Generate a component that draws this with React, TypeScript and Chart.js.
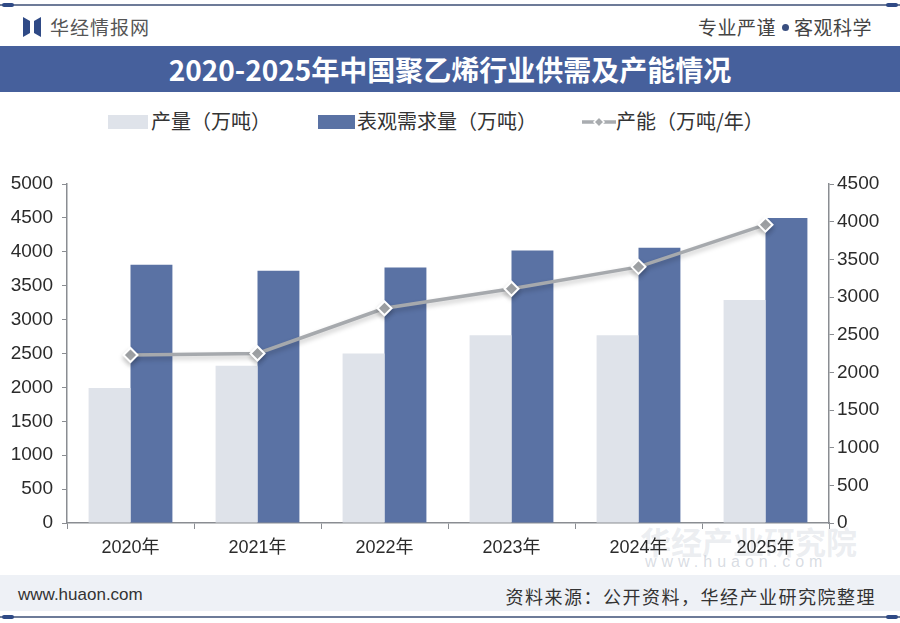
import React, { useRef, useEffect } from 'react'
import { Chart, registerables } from 'chart.js'

Chart.register(...registerables)

const years = ['2020年', '2021年', '2022年', '2023年', '2024年', '2025年']
const output = [1990, 2320, 2500, 2770, 2770, 3290]
const demand = [3810, 3720, 3770, 4020, 4060, 4500]
const capacity = [2230, 2250, 2850, 3110, 3400, 3960]

const CJK = "'Noto Sans CJK SC', 'Noto Sans', sans-serif"
const NUM = "'Liberation Sans', Arial, 'Noto Sans CJK SC', sans-serif"

const lineShadow = {
	id: 'lineShadow',
	beforeDatasetDraw(chart: any, args: any) {
		if (args.index !== 2) return
		const ctx = chart.ctx
		ctx.save()
		ctx.shadowColor = 'rgba(0,0,0,0.22)'
		ctx.shadowBlur = 5
		ctx.shadowOffsetY = 3
	},
	afterDatasetDraw(chart: any, args: any) {
		if (args.index !== 2) return
		chart.ctx.restore()
	},
}

const plain = (v: any) => String(v)

const SupplyChart: React.FC = () => {
	const chartRef = useRef<HTMLCanvasElement | null>(null)

	useEffect(() => {
		if (!chartRef.current) return
		const ctx = chartRef.current.getContext('2d')
		if (!ctx) return
		const axisColor = '#8a8d92'
		const chart = new Chart(ctx, {
			type: 'bar',
			data: {
				labels: years,
				datasets: [
					{
						label: '产量（万吨）',
						data: output,
						backgroundColor: '#dfe3ea',
						yAxisID: 'y',
						order: 1,
						categoryPercentage: 0.66,
						barPercentage: 1,
					},
					{
						label: '表观需求量（万吨）',
						data: demand,
						backgroundColor: '#5a72a4',
						yAxisID: 'y',
						order: 1,
						categoryPercentage: 0.66,
						barPercentage: 1,
					},
					{
						type: 'line',
						label: '产能（万吨/年）',
						data: capacity,
						borderColor: '#a6a9ad',
						borderWidth: 3.5,
						pointStyle: 'rectRot',
						pointRadius: 7,
						pointBackgroundColor: '#a8abae',
						pointBorderColor: '#ffffff',
						pointBorderWidth: 2,
						yAxisID: 'y1',
						order: 0,
						tension: 0,
					} as any,
				],
			},
			options: {
				responsive: false,
				animation: false,
				layout: { padding: { top: 24, left: 0, right: 0, bottom: 0 } },
				plugins: {
					legend: { display: false },
					tooltip: { enabled: false },
				},
				scales: {
					x: {
						grid: {
							display: true,
							drawOnChartArea: false,
							drawTicks: true,
							tickLength: 6,
							color: axisColor,
						},
						border: { display: true, color: axisColor, width: 1.5 },
						ticks: {
							color: '#2b2b2b',
							font: { family: NUM, size: 18 },
							padding: 8,
						},
						afterFit: (s: any) => {
							s.height = 42
						},
					},
					y: {
						position: 'left',
						min: 0,
						max: 5000,
						ticks: {
							stepSize: 500,
							callback: plain,
							color: '#2b2b2b',
							font: { family: NUM, size: 19 },
							padding: 9,
						},
						grid: {
							display: true,
							drawOnChartArea: false,
							drawTicks: true,
							tickLength: 5,
							color: axisColor,
						},
						border: { display: true, color: axisColor, width: 1.5 },
						afterFit: (s: any) => {
							s.width = 67
						},
					},
					y1: {
						position: 'right',
						min: 0,
						max: 4500,
						ticks: {
							stepSize: 500,
							callback: plain,
							color: '#2b2b2b',
							font: { family: NUM, size: 19 },
							padding: 3,
						},
						grid: {
							display: true,
							drawOnChartArea: false,
							drawTicks: true,
							tickLength: 5,
							color: axisColor,
						},
						border: { display: true, color: axisColor, width: 1.5 },
						afterFit: (s: any) => {
							s.width = 71
						},
					},
				},
			},
			plugins: [lineShadow],
		})

		return () => {
			chart.destroy()
		}
	}, [])

	return <canvas ref={chartRef} width={900} height={405} />
}

const App: React.FC = () => {
	const text = '#333333'
	return (
		<div
			style={{
				position: 'fixed',
				left: 0,
				top: 0,
				width: 900,
				height: 623,
				background: '#ffffff',
				overflow: 'hidden',
				fontFamily: CJK,
			}}
		>
			{/* top rule */}
			<div style={{ position: 'absolute', left: 0, top: 4, width: 900, height: 2, background: '#6d7b98' }} />
			<div style={{ position: 'absolute', left: 2, top: 3, width: 12, height: 4, borderRadius: 2, background: '#2f4a86' }} />
			<div style={{ position: 'absolute', left: 886, top: 3, width: 12, height: 4, borderRadius: 2, background: '#2f4a86' }} />

			{/* header */}
			<svg style={{ position: 'absolute', left: 23, top: 17 }} width={18} height={20} viewBox="0 0 18 20">
				<polygon points="0,0 7,4 7,16 0,20" fill="#2f4a86" />
				<polygon points="18,0 11,4 11,16 18,20" fill="#2f4a86" />
			</svg>
			<div style={{ position: 'absolute', left: 50, top: 13, fontSize: 19, color: '#555', letterSpacing: 1 }}>
				华经情报网
			</div>
			<div style={{ position: 'absolute', right: 28, top: 13, fontSize: 19, color: '#444', letterSpacing: 0.5 }}>
				专业严谨
				<span
					style={{
						display: 'inline-block',
						width: 7,
						height: 7,
						borderRadius: 4,
						background: '#3a4f80',
						margin: '0 5px 4px 6px',
						verticalAlign: 'middle',
					}}
				/>
				客观科学
			</div>

			{/* title band */}
			<div
				style={{
					position: 'absolute',
					left: 0,
					top: 46,
					width: 900,
					height: 46,
					background: '#46609c',
					color: '#ffffff',
					fontSize: 28,
					fontWeight: 700,
					lineHeight: '46px',
					textAlign: 'center',
				}}
			>
				2020-2025年中国聚乙烯行业供需及产能情况
			</div>

			{/* legend */}
			<div style={{ position: 'absolute', left: 108, top: 115, width: 40, height: 14, background: '#dfe3ea' }} />
			<div style={{ position: 'absolute', left: 151, top: 106, fontSize: 20, color: text }}>产量（万吨）</div>
			<div style={{ position: 'absolute', left: 318, top: 115, width: 37, height: 14, background: '#5a72a4' }} />
			<div style={{ position: 'absolute', left: 357, top: 106, fontSize: 20, color: text }}>表观需求量（万吨）</div>
			<svg style={{ position: 'absolute', left: 582, top: 114 }} width={34} height={16} viewBox="0 0 34 16">
				<line x1={0} y1={8} x2={34} y2={8} stroke="#a9acb0" strokeWidth={3.5} />
				<polygon points="17,3 22,8 17,13 12,8" fill="#a8abae" stroke="#fff" strokeWidth={1.5} />
			</svg>
			<div style={{ position: 'absolute', left: 616, top: 106, fontSize: 20, color: text }}>产能（万吨/年）</div>

			{/* watermark */}
			<div
				style={{
					position: 'absolute',
					left: 640,
					top: 518,
					fontSize: 31,
					color: 'rgba(190,196,208,0.3)',
					fontWeight: 700,
				}}
			>
				华经产业研究院
			</div>
			<div
				style={{
					position: 'absolute',
					left: 645,
					top: 553,
					fontSize: 16,
					color: 'rgba(170,178,192,0.45)',
					letterSpacing: 5,
					fontFamily: NUM,
				}}
			>
				www.huaon.com
			</div>

			{/* chart */}
			<div style={{ position: 'absolute', left: 0, top: 160, width: 900, height: 405 }}>
				<SupplyChart />
			</div>

			{/* footer */}
			<div style={{ position: 'absolute', left: 0, top: 575, width: 900, height: 36, background: '#eef1f6' }} />
			<div style={{ position: 'absolute', left: 18, top: 585, fontSize: 17, color: text, fontFamily: NUM }}>
				www.huaon.com
			</div>
			<div style={{ position: 'absolute', right: 24, top: 583, fontSize: 18, color: text, letterSpacing: 1.5 }}>
				资料来源：公开资料，华经产业研究院整理
			</div>
			<div style={{ position: 'absolute', left: 0, top: 616, width: 900, height: 2, background: '#6d7b98' }} />
			<div style={{ position: 'absolute', left: 2, top: 615, width: 12, height: 4, borderRadius: 2, background: '#2f4a86' }} />
			<div style={{ position: 'absolute', left: 886, top: 615, width: 12, height: 4, borderRadius: 2, background: '#2f4a86' }} />
		</div>
	)
}

export default App
